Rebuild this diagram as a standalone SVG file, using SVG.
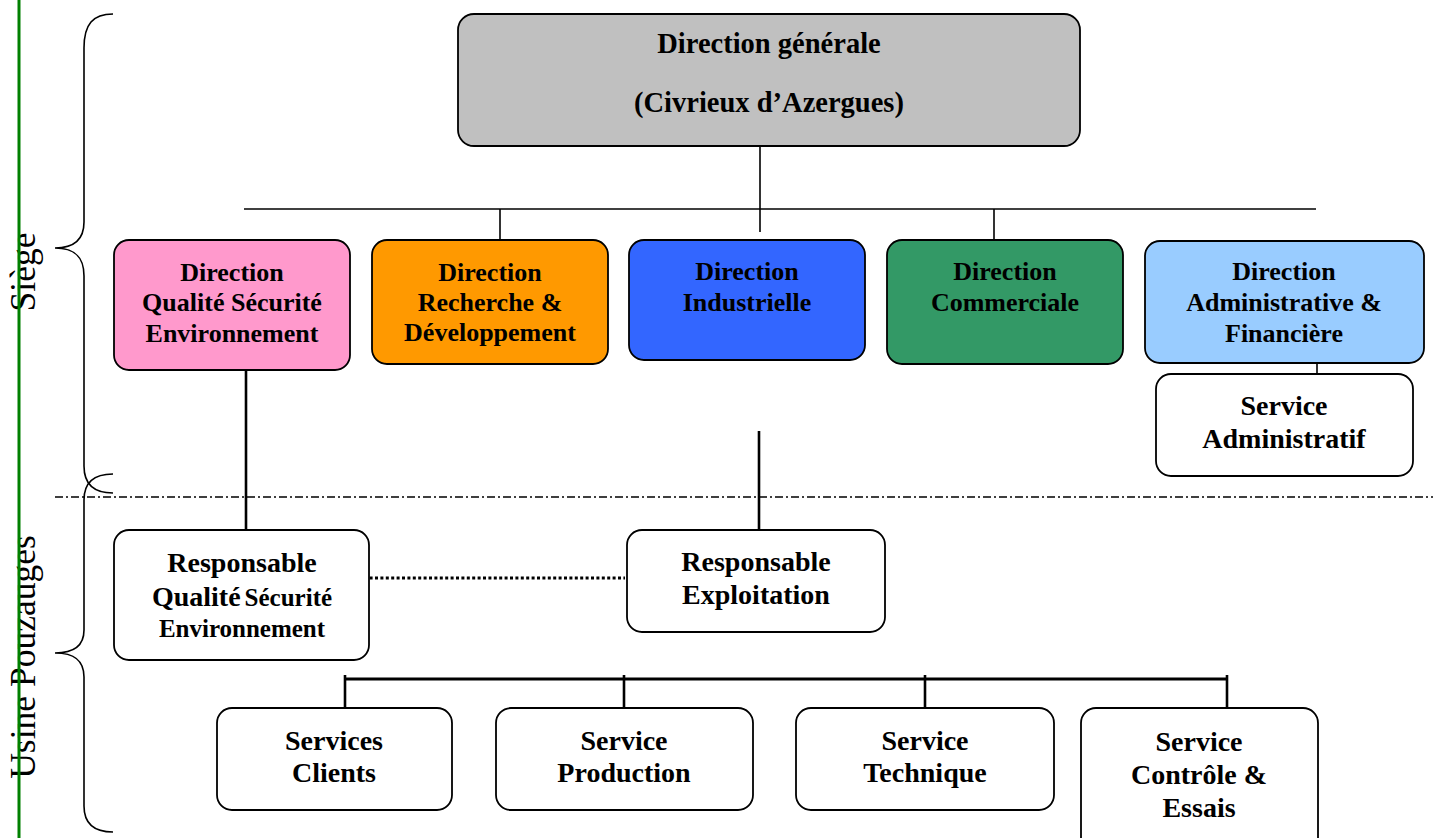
<svg xmlns="http://www.w3.org/2000/svg" width="1433" height="838" viewBox="0 0 1433 838">
<style>
.box{stroke:#000;stroke-width:1.8}
.t{font-family:"Liberation Serif","Times New Roman",serif;font-weight:bold;fill:#000;text-anchor:middle}
.t26{font-size:26px}
.t28{font-size:28px}
.t25{font-size:25px}
.top{font-size:28.5px}
.side{font-family:"Liberation Serif","Times New Roman",serif;font-size:35.5px;fill:#000;text-anchor:middle}
.thin{stroke:#000;stroke-width:1.6;fill:none}
.thick{stroke:#000;stroke-width:2.6;fill:none}
.brace{stroke:#000;stroke-width:1.6;fill:none}
</style>
<rect width="1433" height="838" fill="#fff"/>

<g id="labels">
<text class="side" transform="translate(35,272) rotate(-90)">Siège</text>
<text class="side" transform="translate(35,657) rotate(-90)">Usine Pouzauges</text>
</g>
<line x1="19" y1="0" x2="19" y2="838" stroke="#008000" stroke-width="3"/>

<g id="braces">
<path class="brace" d="M113,14 C93,14 84,24 84,48 L84,222 C84,240 74,248 55,248 C74,248 84,256 84,276 L84,466 C84,484 94,493 113,493"/>
<path class="brace" d="M113,474 C94,474 84,482 84,500 L84,630 C84,646 74,653 55,653 C74,653 84,660 84,677 L84,806 C84,824 94,832 113,832"/>
</g>

<line x1="55" y1="497" x2="1433" y2="497" stroke="#000" stroke-width="1.5" stroke-dasharray="8 3 2 3"/>

<g id="connectors">
<line class="thin" x1="760" y1="146" x2="760" y2="232"/>
<line class="thin" x1="244" y1="209" x2="1316" y2="209"/>
<line class="thin" x1="500" y1="209" x2="500" y2="240"/>
<line class="thin" x1="994" y1="209" x2="994" y2="240"/>
<line class="thin" x1="1317" y1="363" x2="1317" y2="374"/>
<line class="thick" x1="246" y1="370" x2="246" y2="530"/>
<line class="thick" x1="759" y1="431" x2="759" y2="530"/>
<line x1="348" y1="578" x2="625" y2="578" stroke="#000" stroke-width="3" stroke-dasharray="3 2.4"/>
<line x1="345" y1="679" x2="1228" y2="679" stroke="#000" stroke-width="3.2"/>
<line class="thick" x1="345" y1="675" x2="345" y2="708"/>
<line class="thick" x1="624" y1="675" x2="624" y2="708"/>
<line class="thick" x1="925" y1="675" x2="925" y2="708"/>
<line class="thick" x1="1227" y1="675" x2="1227" y2="708"/>
</g>

<g id="direction-generale">
<rect class="box" x="458" y="14" width="622" height="132" rx="16" fill="#c0c0c0"/>
<text class="t top" x="769" y="53">Direction générale</text>
<text class="t top" x="769" y="112">(Civrieux d’Azergues)</text>
</g>

<g id="dir-qse">
<rect class="box" x="114" y="240" width="236" height="130" rx="15" fill="#ff99cc"/>
<text class="t t26" x="232" y="281">Direction</text>
<text class="t t26" x="232" y="311">Qualité Sécurité</text>
<text class="t t26" x="232" y="342">Environnement</text>
</g>

<g id="dir-rd">
<rect class="box" x="372" y="240" width="236" height="124" rx="15" fill="#ff9900"/>
<text class="t t26" x="490" y="281">Direction</text>
<text class="t t26" x="490" y="311">Recherche &amp;</text>
<text class="t t26" x="490" y="341">Développement</text>
</g>

<g id="dir-industrielle">
<rect class="box" x="629" y="240" width="236" height="120" rx="15" fill="#3366ff"/>
<text class="t t26" x="747" y="280">Direction</text>
<text class="t t26" x="747" y="311">Industrielle</text>
</g>

<g id="dir-commerciale">
<rect class="box" x="887" y="240" width="236" height="124" rx="15" fill="#339966"/>
<text class="t t26" x="1005" y="280">Direction</text>
<text class="t t26" x="1005" y="311">Commerciale</text>
</g>

<g id="dir-admin">
<rect class="box" x="1145" y="241" width="279" height="122" rx="15" fill="#99ccff"/>
<text class="t t26" x="1284" y="280">Direction</text>
<text class="t t26" x="1284" y="311">Administrative &amp;</text>
<text class="t t26" x="1284" y="342">Financière</text>
</g>

<g id="service-administratif">
<rect class="box" x="1156" y="374" width="257" height="102" rx="15" fill="#fff"/>
<text class="t t28" x="1284" y="415">Service</text>
<text class="t t28" x="1284" y="448">Administratif</text>
</g>

<g id="resp-qse">
<rect class="box" x="114" y="530" width="255" height="130" rx="15" fill="#fff"/>
<text class="t t28" x="242" y="572">Responsable</text>
<text class="t" x="242" y="606"><tspan font-size="28">Qualité</tspan> <tspan font-size="25">Sécurité</tspan></text>
<text class="t t25" x="242" y="637">Environnement</text>
</g>

<g id="resp-exploitation">
<rect class="box" x="627" y="530" width="258" height="102" rx="15" fill="#fff"/>
<text class="t t28" x="756" y="571">Responsable</text>
<text class="t t28" x="756" y="604">Exploitation</text>
</g>

<g id="services-clients">
<rect class="box" x="217" y="708" width="235" height="102" rx="15" fill="#fff"/>
<text class="t t28" x="334" y="750">Services</text>
<text class="t t28" x="334" y="782">Clients</text>
</g>

<g id="service-production">
<rect class="box" x="496" y="708" width="257" height="102" rx="15" fill="#fff"/>
<text class="t t28" x="624" y="750">Service</text>
<text class="t t28" x="624" y="782">Production</text>
</g>

<g id="service-technique">
<rect class="box" x="796" y="708" width="258" height="102" rx="15" fill="#fff"/>
<text class="t t28" x="925" y="750">Service</text>
<text class="t t28" x="925" y="782">Technique</text>
</g>

<g id="service-controle">
<rect class="box" x="1081" y="708" width="237" height="145" rx="15" fill="#fff"/>
<text class="t t28" x="1199" y="751">Service</text>
<text class="t t28" x="1199" y="784">Contrôle &amp;</text>
<text class="t t28" x="1199" y="817">Essais</text>
</g>
</svg>
